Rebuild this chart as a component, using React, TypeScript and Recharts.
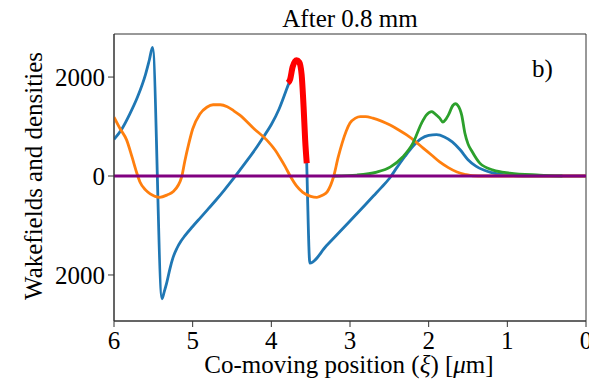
import { Line, LineChart, ReferenceArea, XAxis, YAxis } from 'recharts';

// xi [um] (left to right, i.e. decreasing), value
const wakeField: [number, number][] = [
  [6.0, 740], [5.9, 950], [5.8, 1250], [5.7, 1600], [5.6, 2050], [5.55, 2350], [5.51, 2600],
  [5.39, -2480], [5.36, -2330], [5.33, -2160], [5.29, -1880], [5.25, -1650], [5.2, -1460],
  [5.15, -1320], [5.1, -1210], [5.0, -1020], [4.9, -840], [4.8, -660], [4.7, -480], [4.6, -290],
  [4.5, -90], [4.4, 120], [4.3, 330], [4.2, 550], [4.1, 790], [4.0, 1040], [3.9, 1360],
  [3.8, 1780], [3.76, 1960], [3.73, 2200], [3.68, 2340], [3.645, 2300], [3.615, 2050],
  [3.59, 1400], [3.57, 730], [3.55, 260], [3.54, -400], [3.51, -1760], [3.3, -1410],
  [3.0, -910], [2.7, -400], [2.6, -230], [2.5, -50], [2.4, 180], [2.3, 400], [2.2, 600],
  [2.1, 750], [2.0, 820], [1.9, 835], [1.8, 790], [1.7, 690], [1.6, 530], [1.5, 330],
  [1.4, 200], [1.3, 120], [1.2, 70], [1.0, 20], [0.8, 0], [0.0, 0],
];

const driverSegment: [number, number][] = [
  [3.79, 1880], [3.76, 1960], [3.73, 2200], [3.68, 2340], [3.645, 2300], [3.615, 2050],
  [3.59, 1400], [3.57, 730], [3.55, 260],
];

const plasmaDensity: [number, number][] = [
  [6.0, 1190], [5.92, 950], [5.84, 730], [5.77, 380], [5.71, 60], [5.67, -120], [5.6, -280],
  [5.54, -360], [5.42, -430], [5.32, -380], [5.25, -320], [5.14, -20], [5.1, 300], [5.05, 650],
  [5.0, 950], [4.91, 1250], [4.82, 1390], [4.74, 1440], [4.65, 1440], [4.56, 1400],
  [4.48, 1320], [4.4, 1230], [4.23, 970], [4.06, 730], [3.95, 520], [3.89, 370], [3.82, 180],
  [3.76, 0], [3.68, -200], [3.6, -330], [3.5, -410], [3.42, -430], [3.35, -390], [3.29, -320],
  [3.21, -20], [3.15, 380], [3.1, 665], [3.05, 900], [3.0, 1070], [2.93, 1170], [2.87, 1200],
  [2.8, 1200], [2.71, 1170], [2.6, 1110], [2.49, 1030], [2.38, 930], [2.28, 830], [2.17, 700],
  [2.07, 565], [1.96, 420], [1.86, 285], [1.75, 170], [1.64, 80], [1.53, 30], [1.44, 5],
  [1.3, 0], [0.0, 0],
];

const beamDensity: [number, number][] = [
  [3.2, 0], [2.91, 20], [2.66, 80], [2.49, 180], [2.33, 385], [2.2, 665], [2.09, 1070],
  [2.03, 1230], [1.96, 1300], [1.93, 1270], [1.9, 1230], [1.86, 1170], [1.82, 1090],
  [1.78, 1150], [1.75, 1230], [1.69, 1430], [1.66, 1460], [1.63, 1430], [1.58, 1230],
  [1.54, 870], [1.5, 650], [1.45, 500], [1.35, 260], [1.18, 120], [0.97, 60], [0.59, 20],
  [0.3, 0],
];

const baseline: [number, number][] = [[6, 0], [0, 0]];

const xTicks = [0, 1, 2, 3, 4, 5, 6];
const yTicks = [-2000, 0, 2000];
const yDomain = [-2930, 2870];

const toRows = (pts: [number, number][]) => pts.map(([x, y]) => ({ x, y }));

const FONT = '"Liberation Serif", "Times New Roman", Times, Tinos, "DejaVu Serif", serif';
const tickStyle = { fill: '#000', fontSize: 25, fontFamily: FONT };

export default function App() {
  return (
    <div style={{ position: 'absolute', left: 0, top: 0, width: 589, height: 384, background: '#fff', fontFamily: FONT }}>
      <LineChart width={589} height={384} margin={{ top: 34, right: 3, bottom: 0, left: 0 }}>
        <XAxis
          type="number"
          dataKey="x"
          domain={[0, 6]}
          reversed
          ticks={xTicks}
          interval={0}
          allowDataOverflow
          height={63}
          tickSize={6}
          tickMargin={4}
          stroke="#333"
          tick={tickStyle}
        />
        <YAxis
          type="number"
          dataKey="y"
          domain={yDomain}
          ticks={yTicks}
          interval={0}
          allowDataOverflow
          width={114}
          tickSize={6}
          tickMargin={3}
          stroke="#333"
          tick={tickStyle}
          tickFormatter={(v: number) => String(Math.abs(v))}
        />
        <ReferenceArea x1={6} x2={0} y1={yDomain[0]} y2={yDomain[1]} fill="none" stroke="#333" strokeWidth={1} />
        <Line data={toRows(wakeField)} dataKey="y" type="monotone" stroke="#1f77b4" strokeWidth={2.8} dot={false} isAnimationActive={false} />
        <Line data={toRows(plasmaDensity)} dataKey="y" type="monotone" stroke="#ff7f0e" strokeWidth={2.8} dot={false} isAnimationActive={false} />
        <Line data={toRows(beamDensity)} dataKey="y" type="monotone" stroke="#2ca02c" strokeWidth={2.8} dot={false} isAnimationActive={false} />
        <Line data={toRows(driverSegment)} dataKey="y" type="monotone" stroke="#ff0000" strokeWidth={6} dot={false} isAnimationActive={false} />
        <Line data={toRows(baseline)} dataKey="y" type="linear" stroke="#800080" strokeWidth={3} dot={false} isAnimationActive={false} />
      </LineChart>
      <div style={{ position: 'absolute', left: 350, top: 6, transform: 'translateX(-50%)', fontSize: 25, lineHeight: 1, whiteSpace: 'nowrap' }}>
        After 0.8 mm
      </div>
      <div style={{ position: 'absolute', left: 532, top: 56, fontSize: 25, lineHeight: 1, whiteSpace: 'nowrap' }}>
        b)
      </div>
      <div style={{ position: 'absolute', left: 349, top: 355, transform: 'translateX(-50%)', fontSize: 25, lineHeight: 0.8, whiteSpace: 'nowrap' }}>
        Co-moving position (<i>ξ</i>) [<i>μ</i>m]
      </div>
      <div style={{ position: 'absolute', left: 33, top: 176, transform: 'translate(-50%, -50%) rotate(-90deg)', fontSize: 25, lineHeight: 1, whiteSpace: 'nowrap' }}>
        Wakefields and densities
      </div>
    </div>
  );
}
